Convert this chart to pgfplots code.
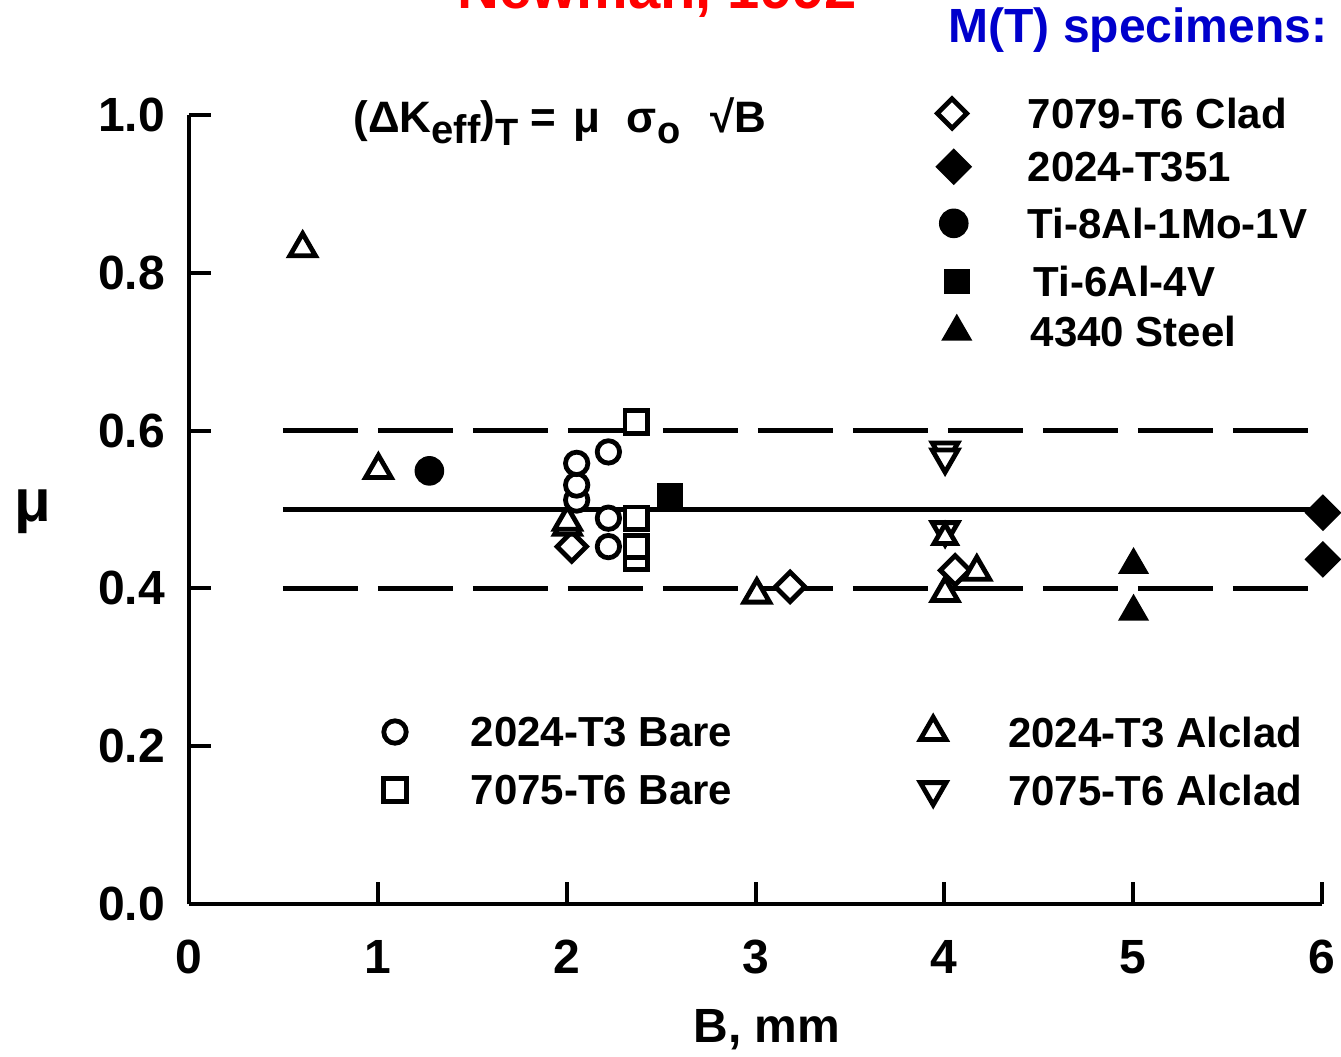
\documentclass[border=0pt]{standalone}
\usepackage{fontspec}
\setmainfont{Liberation Sans}
\usepackage{pgfplots}
\pgfplotsset{compat=1.18}

\definecolor{titlered}{RGB}{255,0,0}
\definecolor{titleblue}{RGB}{0,0,204}

\newcommand{\legfont}{\fontsize{21}{25}\selectfont\bfseries}

\pgfplotsset{
  openmk/.style={only marks, mark=#1, mark options={draw=black, fill=white, line width=2.4pt, solid}},
  fullmk/.style={only marks, mark=#1, mark options={draw=black, fill=black, line width=0.8pt, solid}},
  turn/.style={every mark/.append style={rotate=#1}},
}

\begin{document}
\begin{tikzpicture}
\begin{axis}[
  scale only axis,
  width=566.5pt, height=394.5pt,
  xmin=0, xmax=6, ymin=0, ymax=1,
  axis x line=bottom, axis y line=left,
  axis line style={line width=2pt, -},
  every tick/.style={line width=2pt, black},
  tick align=inside,
  major tick length=11pt,
  xtick={0,1,2,3,4,5,6},
  ytick={0,0.2,0.4,0.6,0.8,1.0},
  /pgf/number format/assume math mode=true,
  tick label style={font=\fontsize{24}{28}\selectfont\bfseries},
  yticklabel style={/pgf/number format/fixed,
                    /pgf/number format/fixed zerofill,
                    /pgf/number format/precision=1, xshift=-8.5pt},
  xticklabel style={yshift=-14.5pt},
  clip=false,
]

% reference band: mean 0.5, limits 0.4 and 0.6
\addplot[black, line width=2.2pt, dash pattern=on 37.5pt off 10pt] coordinates {(0.497,0.6) (5.927,0.6)};
\addplot[black, line width=2.2pt, dash pattern=on 37.5pt off 10pt] coordinates {(0.497,0.4) (5.927,0.4)};
\addplot[black, line width=2.4pt] coordinates {(0.497,0.5) (5.95,0.5)};

% 2024-T3 Bare
\addplot[openmk=*, mark size=5.6pt] coordinates {
  (2.053,0.512) (2.053,0.531) (2.053,0.5585) (2.221,0.573) (2.221,0.489) (2.221,0.453)};
% 7075-T6 Bare
\addplot[openmk=square*, mark size=5.6pt] coordinates {
  (2.368,0.611) (2.368,0.489) (2.368,0.4385) (2.368,0.453)};
% 7079-T6 Clad
\addplot[openmk=square*, turn=45, mark size=5.2pt] coordinates {
  (2.027,0.453) (3.183,0.402) (4.057,0.423)};
% 2024-T3 Alclad
\addplot[openmk=triangle*, mark size=7.4pt] coordinates {
  (0.602,0.831) (1.003,0.550) (2.004,0.478) (2.004,0.4845)
  (3.007,0.392) (4.004,0.394) (4.172,0.421)};
% 7075-T6 Alclad
\addplot[openmk=triangle*, turn=180, mark size=7.4pt] coordinates {
  (4.004,0.575) (4.004,0.566) (4.004,0.474)};
\addplot[openmk=triangle*, mark size=6.4pt] coordinates {(4.004,0.465)};
% 2024-T351
\addplot[fullmk=square*, turn=45, mark size=6.1pt] coordinates {
  (6.005,0.496) (6.005,0.4368)};
% Ti-8Al-1Mo-1V
\addplot[fullmk=*, mark size=7pt] coordinates {(1.273,0.549)};
% Ti-6Al-4V
\addplot[fullmk=square*, mark size=6pt] coordinates {(2.548,0.518)};
% 4340 Steel
\addplot[fullmk=triangle*, mark size=8.2pt] coordinates {(5.002,0.4297) (5.002,0.3705)};

% key, upper right
\addplot[openmk=square*, turn=45, mark size=5.2pt] coordinates {(4.041,1.002)};
\addplot[fullmk=square*, turn=45, mark size=6.1pt] coordinates {(4.050,0.9345)};
\addplot[fullmk=*, mark size=7pt] coordinates {(4.050,0.8627)};
\addplot[fullmk=square*, mark size=6pt] coordinates {(4.066,0.7888)};
\addplot[fullmk=triangle*, mark size=8.2pt] coordinates {(4.066,0.7254)};
\node[anchor=west, font=\legfont] at (axis cs:4.405,1.002) {7079-T6 Clad};
\node[anchor=west, font=\legfont] at (axis cs:4.405,0.9345) {2024-T351};
\node[anchor=west, font=\legfont] at (axis cs:4.405,0.8627) {Ti-8Al-1Mo-1V};
\node[anchor=west, font=\legfont] at (axis cs:4.437,0.7888) {Ti-6Al-4V};
\node[anchor=west, font=\legfont] at (axis cs:4.420,0.7254) {4340 Steel};

% key, lower part
\addplot[openmk=*, mark size=5.6pt] coordinates {(1.091,0.218)};
\addplot[openmk=square*, mark size=5.6pt] coordinates {(1.091,0.1445)};
\addplot[openmk=triangle*, mark size=7.4pt] coordinates {(3.941,0.218)};
\addplot[openmk=triangle*, turn=180, mark size=7.4pt] coordinates {(3.941,0.1445)};
\node[anchor=west, font=\legfont] at (axis cs:1.455,0.218) {2024-T3 Bare};
\node[anchor=west, font=\legfont] at (axis cs:1.455,0.1445) {7075-T6 Bare};
\node[anchor=west, font=\legfont] at (axis cs:4.300,0.218) {2024-T3 Alclad};
\node[anchor=west, font=\legfont] at (axis cs:4.300,0.1445) {7075-T6 Alclad};

% relation
\node[anchor=base west, font=\fontsize{22}{26}\selectfont\bfseries, inner sep=0pt] at (axis cs:0.869,0.978)
  {(ΔK\raisebox{-0.5ex}{\fontsize{20}{24}\selectfont eff})\raisebox{-0.55ex}{\fontsize{19}{22}\selectfont T}\hspace{6pt}=\hspace{9pt}μ\hspace{13pt}σ\raisebox{-0.5ex}{\fontsize{19}{22}\selectfont o}\hspace{15pt}√B};

% axis titles
\node[font=\fontsize{24}{28}\selectfont\bfseries] at (axis cs:3.061,-0.1597) {B, mm};
\node[font=\fontsize{30}{34}\selectfont\bfseries] at (axis cs:-0.826,0.497) {μ};

% headings
\node[anchor=base, font=\fontsize{29}{33}\selectfont\bfseries, text=titlered] at (axis cs:2.479,1.1356) {Newman, 1992};
\node[anchor=east, font=\fontsize{24}{28}\selectfont\bfseries, text=titleblue] at (axis cs:6.065,1.108) {M(T) specimens:};

\coordinate (bbsw) at (axis cs:-1.0009,-0.19265);
\coordinate (bbne) at (axis cs:6.1007,1.1458);
\end{axis}
\pgfresetboundingbox
\useasboundingbox (bbsw) rectangle (bbne);
\end{tikzpicture}
\end{document}
